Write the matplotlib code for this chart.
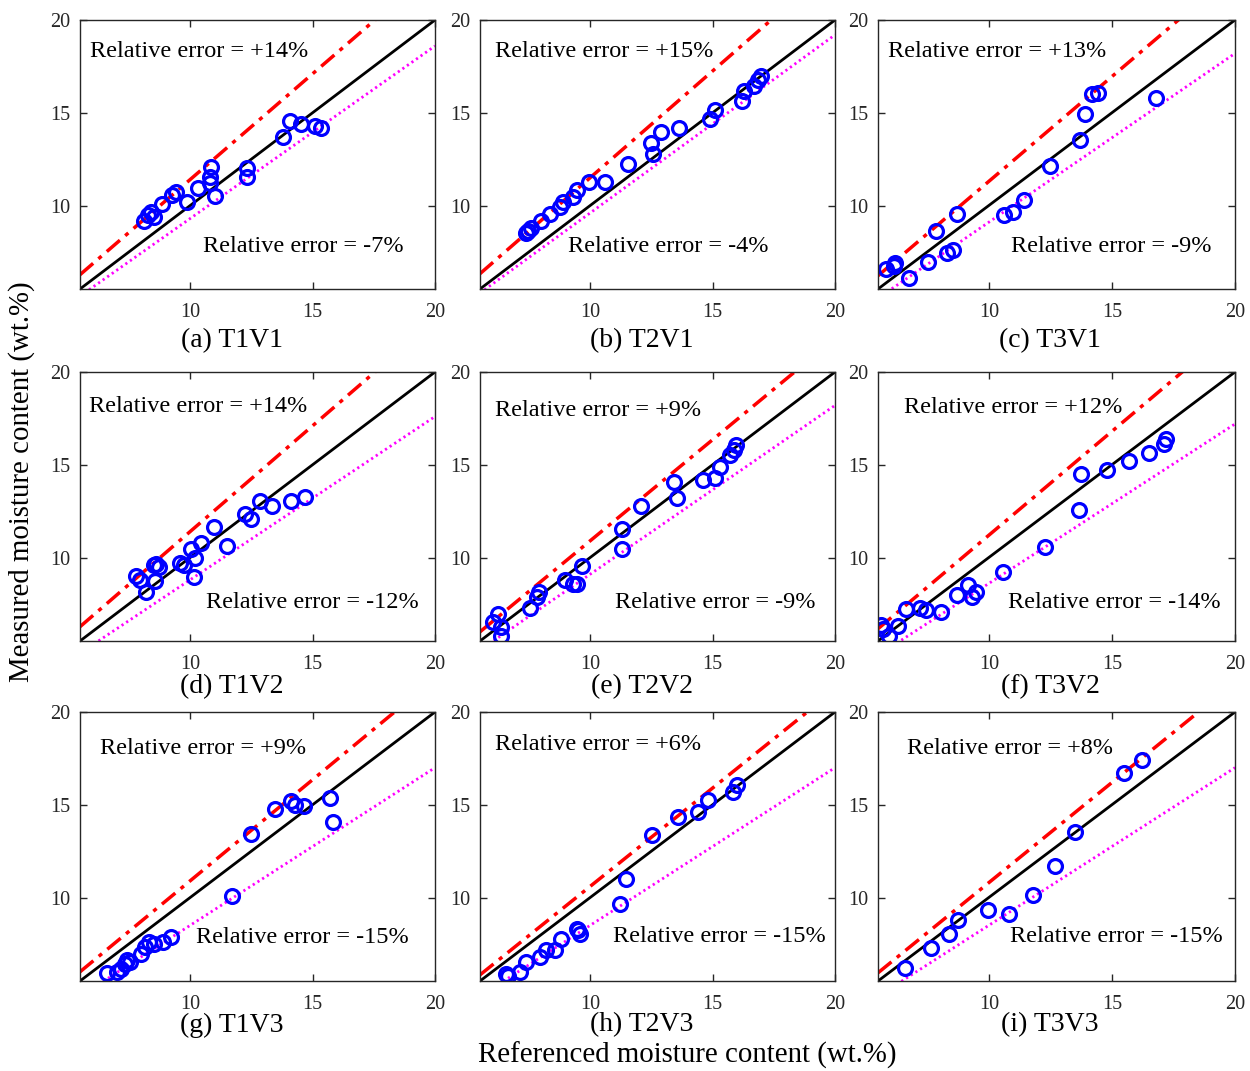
import matplotlib
import matplotlib.pyplot as plt

matplotlib.use('Agg')
plt.rcParams['font.family'] = ['Liberation Serif', 'DejaVu Serif']

# panel labels
names = ['(a) T1V1', '(b) T2V1', '(c) T3V1',
         '(d) T1V2', '(e) T2V2', '(f) T3V2',
         '(g) T1V3', '(h) T2V3', '(i) T3V3']
err_up = [14, 15, 13, 14, 9, 12, 9, 6, 8]
err_low = [-7, -4, -9, -12, -9, -14, -15, -15, -15]

ref_a = [8.10, 8.28, 8.52, 8.39, 8.86, 9.27, 9.41, 9.88, 10.32, 10.86, 10.83, 10.82, 11.00,
         12.32, 12.32, 13.79, 14.06, 14.51, 15.11, 15.33]
mea_a = [9.18, 9.49, 9.36, 9.67, 10.06, 10.57, 10.75, 10.17, 10.93, 12.09, 11.56, 11.20, 10.53,
         12.00, 11.52, 13.68, 14.56, 14.38, 14.30, 14.16]

ref_b = [7.39, 7.46, 7.60, 8.01, 8.35, 8.75, 8.89, 9.30, 9.48, 9.95, 10.59, 11.54, 12.47, 12.57,
         12.88, 13.63, 14.91, 15.08, 16.21, 16.27, 16.69, 16.85, 16.99]
mea_b = [8.50, 8.63, 8.77, 9.17, 9.53, 9.94, 10.21, 10.48, 10.84, 11.25, 11.29, 12.24, 13.35, 12.76,
         13.95, 14.20, 14.66, 15.15, 15.63, 16.17, 16.46, 16.77, 17.00]

ref_c = [5.83, 6.17, 6.21, 6.74, 7.53, 7.84, 8.32, 8.55, 8.69, 10.63, 10.97, 11.44, 12.50, 13.72,
         13.90, 14.20, 14.44, 16.79]
mea_c = [6.58, 6.76, 6.88, 6.08, 6.97, 8.63, 7.42, 7.60, 9.53, 9.49, 9.67, 10.30, 12.13, 13.53,
         14.93, 15.99, 16.05, 15.78]

ref_d = [7.77, 7.94, 8.21, 8.52, 8.62, 8.73, 8.55, 9.57, 9.75, 10.05, 10.18, 10.16, 10.46, 10.97,
         11.52, 12.23, 12.47, 12.84, 13.36, 14.13, 14.68]
mea_d = [8.99, 8.77, 8.14, 9.58, 9.67, 9.49, 8.72, 9.71, 9.58, 10.48, 9.99, 8.95, 10.80, 11.65,
         10.60, 12.36, 12.09, 13.05, 12.76, 13.05, 13.26]

ref_e = [6.03, 6.24, 6.34, 6.34, 7.53, 7.84, 7.91, 8.96, 9.30, 9.48, 9.67, 11.30, 11.30, 12.09,
         13.42, 13.56, 14.61, 15.11, 15.32, 15.70, 15.87, 15.97]
mea_e = [6.53, 6.97, 6.26, 5.75, 7.30, 7.87, 8.14, 8.77, 8.59, 8.59, 9.53, 11.52, 10.48, 12.76,
         14.07, 13.21, 14.20, 14.29, 14.88, 15.54, 15.78, 16.05]

ref_f = [5.62, 5.72, 5.96, 6.30, 6.64, 7.19, 7.43, 8.05, 8.69, 9.14, 9.30, 9.50, 10.56, 12.29,
         13.66, 13.76, 14.81, 15.70, 16.49, 17.13, 17.19]
mea_f = [6.38, 6.17, 5.75, 6.29, 7.24, 7.30, 7.19, 7.06, 7.96, 8.54, 7.87, 8.14, 9.22, 10.57,
         12.58, 14.52, 14.70, 15.18, 15.63, 16.10, 16.41]

ref_g = [6.62, 7.02, 7.16, 7.32, 7.53, 7.43, 8.01, 8.14, 8.32, 8.52, 8.89, 9.23, 11.71, 12.47,
         13.45, 14.13, 14.27, 14.64, 15.70, 15.83]
mea_g = [5.93, 5.99, 6.17, 6.44, 6.53, 6.62, 6.97, 7.33, 7.60, 7.51, 7.60, 7.87, 10.08, 13.41,
         14.75, 15.18, 14.97, 14.92, 15.36, 14.07]

ref_h = [6.55, 6.64, 7.12, 7.37, 7.94, 8.21, 8.55, 8.79, 9.48, 9.57, 9.50, 11.20, 11.48, 12.54,
         13.59, 14.40, 14.81, 15.83, 16.01]
mea_h = [5.90, 5.75, 5.99, 6.53, 6.79, 7.19, 7.19, 7.78, 8.32, 8.05, 8.23, 9.63, 10.98, 13.38,
         14.34, 14.61, 15.24, 15.69, 16.05]

ref_i = [6.58, 7.64, 8.39, 8.73, 9.95, 10.82, 11.78, 12.70, 13.52, 15.49, 16.24]
mea_i = [6.22, 7.30, 8.02, 8.77, 9.35, 9.09, 10.15, 11.68, 13.53, 16.73, 17.39]

refs = [ref_a, ref_b, ref_c, ref_d, ref_e, ref_f, ref_g, ref_h, ref_i]
meas = [mea_a, mea_b, mea_c, mea_d, mea_e, mea_f, mea_g, mea_h, mea_i]

# text anchor positions (data units), upper and lower annotation
txt_up = [(5.89, 18.29), (6.13, 18.29), (5.89, 18.29),
          (5.85, 18.15), (6.13, 17.93), (6.55, 18.11),
          (6.30, 18.02), (6.13, 18.26), (6.68, 18.02)]
txt_low = [(10.52, 7.78), (9.09, 7.78), (10.90, 7.78),
           (10.66, 7.60), (11.00, 7.60), (10.77, 7.60),
           (10.25, 7.87), (10.93, 7.91), (10.86, 7.91)]

W, H = 1250, 1071
fig = plt.figure(figsize=(W / 100, H / 100), dpi=100)

col_left = [80, 480, 878]
col_w = [355, 355, 357]
row_top = [20, 372, 712]
ax_h = 269
title_x = [232, 642, 1050]
title_y = [341, 687, 1025]

lo, hi = 5.5, 20
xs = [lo, hi]
gray = '#262626'

for k in range(9):
    r, c = divmod(k, 3)
    ax = fig.add_axes([col_left[c] / W, 1 - (row_top[r] + ax_h) / H,
                       col_w[c] / W, ax_h / H])
    ax.plot(xs, [v * (1 + err_up[k] / 100) for v in xs], color='red',
            linestyle=(0, (5, 2, 1.2, 2)), lw=2.5)
    ax.plot(xs, xs, color='black', lw=2)
    ax.plot(xs, [v * (1 + err_low[k] / 100) for v in xs], color='magenta',
            linestyle=(0, (0.8, 1.2)), lw=2)
    ax.plot(refs[k], meas[k], 'o', color='blue', mfc='none', ms=10, mew=2.3)
    ax.set_xlim(lo, hi)
    ax.set_ylim(lo, hi)
    ax.set_xticks([10, 15, 20])
    ax.set_yticks([10, 15, 20])
    ax.tick_params(direction='in', top=True, right=True, length=5, width=1,
                   color=gray, labelcolor=gray, labelsize=14.5, pad=10)
    ax.tick_params(axis='y', pad=7)
    for sp in ax.spines.values():
        sp.set_color(gray)
        sp.set_linewidth(1)
    ax.text(txt_up[k][0], txt_up[k][1], 'Relative error = +%d%%' % err_up[k],
            fontsize=17.5, ha='left', va='center')
    ax.text(txt_low[k][0], txt_low[k][1], 'Relative error = %d%%' % err_low[k],
            fontsize=17.5, ha='left', va='center')
    fig.text(title_x[c] / W, 1 - title_y[r] / H, names[k], fontsize=20,
             ha='center', va='center')

fig.text(22 / W, 1 - 482 / H, 'Measured moisture content (wt.%)', fontsize=20.8,
         rotation=90, ha='center', va='center')
fig.text(687 / W, 1 - 1055 / H, 'Referenced moisture content (wt.%)', fontsize=20.8,
         ha='center', va='center')

fig.savefig('out.png', dpi=100)
